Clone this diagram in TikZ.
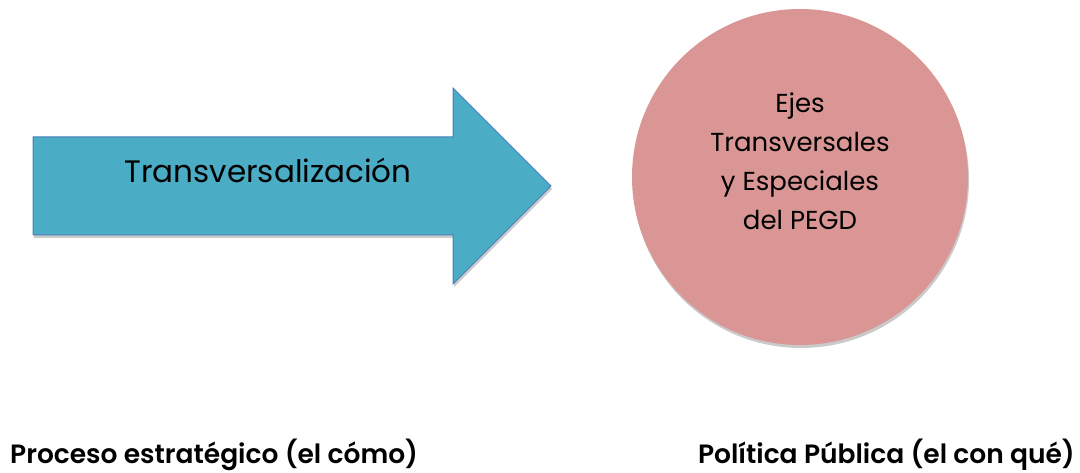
\documentclass[tikz,border=0pt]{standalone}
\usepackage{fontspec}
\setmainfont{Poppins}[BoldFont={Poppins SemiBold}]
\usetikzlibrary{shadows}
\definecolor{arrowblue}{HTML}{4BACC6}
\definecolor{arrowline}{HTML}{4A7EBB}
\definecolor{circlerose}{HTML}{D99694}
\begin{document}
\begin{tikzpicture}[x=1pt,y=-1pt,
    softshadow/.style={drop shadow={shadow xshift=1pt,shadow yshift=-3pt,opacity=0.35,fill=black!60}},
    label/.style={font=\bfseries\fontsize{26.5}{30}\selectfont,anchor=base west,inner sep=0pt},
    ejeline/.style={font=\fontsize{26}{30}\selectfont,anchor=base,inner sep=0pt}]
  \useasboundingbox (0,0) rectangle (1080,473);

  % arrow
  \coordinate (tail top) at (33,137);
  \coordinate (tail bottom) at (33,235);
  \coordinate (tip) at (551,186);
  \path[fill=arrowblue,draw=arrowline,line width=1pt,softshadow]
    (tail top) -- (453,137) -- (453,88) -- (tip) -- (453,284)
    -- (453,235) -- (tail bottom) -- cycle;
  \node[font=\fontsize{31}{36}\selectfont,anchor=base,inner sep=0pt] (proceso) at (268,183) {Transversalización};

  % circle
  \node[circle,fill=circlerose,minimum size=336pt,inner sep=0pt,softshadow] (ejes) at (800,177) {};
  \node[ejeline] (eje1) at (800,113) {Ejes};
  \node[ejeline] (eje2) at (800,152) {Transversales};
  \node[ejeline] (eje3) at (800,191) {y Especiales};
  \node[ejeline] (eje4) at (800,230) {del PEGD};

  % bottom labels
  \node[label] (como) at (10,463) {Proceso estratégico (el cómo)};
  \node[label,anchor=base east] (conque) at (1075,463) {Política Pública (el con qué)};
\end{tikzpicture}
\end{document}
